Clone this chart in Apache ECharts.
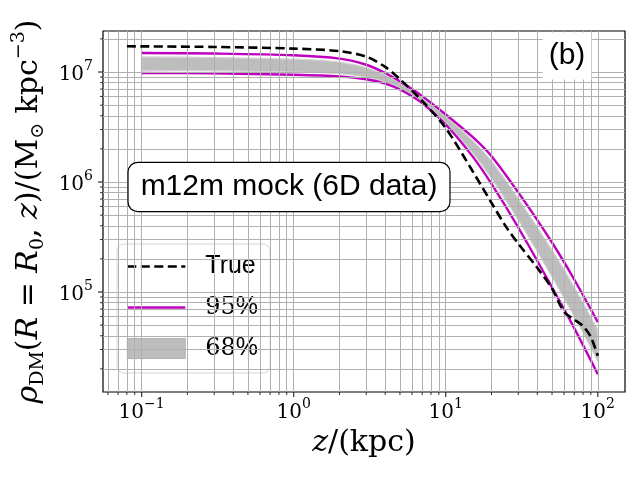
<!DOCTYPE html>
<html>
<head>
<meta charset="utf-8">
<script src="https://cdn.jsdelivr.net/npm/echarts@6/dist/echarts.min.js"></script>
<style>
  html, body { margin: 0; padding: 0; background: #fff; }
  #main { width: 640px; height: 480px; }
</style>
</head>
<body>
<div id="main"></div>
<script>
// z (kpc) for the posterior bands
var zBand = [0.1, 0.3, 1, 2, 3, 4, 5, 7, 10, 15, 20, 30, 50, 70, 100];
// 95% envelope
var upper95 = [1.489e7, 1.472e7, 1.419e7, 1.324e7, 1.164e7, 9.79e6, 8.22e6, 6.04e6, 4.11e6, 2.57e6, 1.718e6, 8.04e5, 2.82e5, 1.30e5, 5.33e4];
var lower95 = [9.79e6, 9.73e6, 9.44e6, 9.12e6, 8.59e6, 7.83e6, 6.93e6, 5.21e6, 3.33e6, 1.71e6, 9.62e5, 3.86e5, 1.104e5, 4.69e4, 1.79e4];
// 68% band
var hi68 = [1.371e7, 1.355e7, 1.309e7, 1.230e7, 1.096e7, 9.38e6, 7.94e6, 5.86e6, 3.94e6, 2.377e6, 1.549e6, 7.05e5, 2.40e5, 1.104e5, 4.51e4];
var lo68 = [1.035e7, 1.026e7, 1.0e7, 9.64e6, 8.99e6, 8.11e6, 7.11e6, 5.33e6, 3.45e6, 1.841e6, 1.079e6, 4.51e5, 1.371e5, 5.98e4, 2.36e4];
// true profile
var zTrue = [0.08, 0.3, 1, 2, 3, 4, 5, 7, 10, 15, 20, 25, 30, 40, 50, 60, 70, 80, 90, 100];
var rhoTrue = [1.714e7, 1.690e7, 1.633e7, 1.549e7, 1.380e7, 1.112e7, 8.59e6, 5.46e6, 3.09e6, 1.259e6, 6.46e5, 3.89e5, 2.75e5, 1.66e5, 1.072e5, 6.61e4, 5.62e4, 4.90e4, 3.89e4, 2.63e4];
// axes
var xRange = [0.0557, 151];
var yRange = [1.233e4, 2.36e7];
var xDecades = [-2, -1, 0, 1, 2];
var yDecades = [4, 5, 6, 7];
var xLabelExps = [-1, 0, 1, 2];
var yLabelExps = [5, 6, 7];

var SERIF = "'DejaVu Serif', 'Liberation Serif', serif";
var SANS = "'Liberation Sans', 'DejaVu Sans', sans-serif";
var SMOOTH = 0.3;

function pairs(xs, ys) {
  return xs.map(function (x, i) { return [x, ys[i]]; });
}
function inRange(v, r) { return v >= r[0] && v <= r[1]; }
function gridValues(decades, r, mults) {
  var out = [];
  decades.forEach(function (d) {
    mults.forEach(function (m) {
      var v = m * Math.pow(10, d);
      if (inRange(v, r)) out.push(v);
    });
  });
  return out;
}
var xMajor = xLabelExps.map(function (e) { return Math.pow(10, e); });
var yMajor = yLabelExps.map(function (e) { return Math.pow(10, e); });
var xMinor = gridValues(xDecades, xRange, [2, 3, 4, 5, 6, 7, 8, 9]);
var yMinor = gridValues(yDecades, yRange, [2, 3, 4, 5, 6, 7, 8, 9]);

function powLabel(v) {
  var e = Math.round(Math.log10(v));
  return '{b|10}{s|' + (e < 0 ? '\u2212' + (-e) : e) + '}';
}
var tickRich = {
  b: { fontFamily: SERIF, fontSize: 20, color: '#000', lineHeight: 26, verticalAlign: 'bottom' },
  s: { fontFamily: SERIF, fontSize: 14, color: '#000', lineHeight: 14, verticalAlign: 'top' }
};
var nameRich = {
  n: { fontFamily: SERIF, fontSize: 30, color: '#000', lineHeight: 38 },
  i: { fontFamily: SERIF, fontSize: 30, color: '#000', fontStyle: 'italic', lineHeight: 38 },
  sub: { fontFamily: SERIF, fontSize: 19, color: '#000', lineHeight: 19, verticalAlign: 'bottom' },
  sup: { fontFamily: SERIF, fontSize: 19, color: '#000', lineHeight: 19, verticalAlign: 'top' }
};

// same control-point rule as the line series smoothing, so the band edges follow the curves
function smoothTo(pts, smooth, first) {
  var d = (first ? 'M' : 'L') + pts[0][0] + ' ' + pts[0][1];
  var cp0 = pts[0].slice();
  for (var i = 1; i < pts.length; i++) {
    var p = pts[i], prev = pts[i - 1], next = pts[i + 1];
    var cp1, nextCp0;
    if (!next) {
      cp1 = p.slice();
    } else {
      var vx = next[0] - prev[0], vy = next[1] - prev[1];
      var l0 = Math.hypot(p[0] - prev[0], p[1] - prev[1]);
      var l1 = Math.hypot(next[0] - p[0], next[1] - p[1]);
      var r = l1 / (l0 + l1);
      cp1 = [p[0] - vx * smooth * (1 - r), p[1] - vy * smooth * (1 - r)];
      nextCp0 = [p[0] + vx * smooth * r, p[1] + vy * smooth * r];
    }
    d += 'C' + cp0[0] + ' ' + cp0[1] + ' ' + cp1[0] + ' ' + cp1[1] + ' ' + p[0] + ' ' + p[1];
    cp0 = nextCp0;
  }
  return d;
}

function renderBand(params, api) {
  if (params.dataIndex !== 0) return null;
  var n = params.dataInsideLength;
  var top = [], bot = [];
  for (var i = 0; i < n; i++) {
    top.push(api.coord([api.value(0, i), api.value(2, i)]));
    bot.push(api.coord([api.value(0, i), api.value(1, i)]));
  }
  var d = smoothTo(top, SMOOTH, true) + smoothTo(bot.reverse(), SMOOTH, false) + 'Z';
  return {
    type: 'path',
    shape: { pathData: d },
    style: { fill: '#bdbdbd', stroke: '#d3d3d3', lineWidth: 1.2 }
  };
}

var gridLine = { color: '#b0b0b0', width: 1, type: 'solid' };
function tickSeries(data, size, offset) {
  return {
    type: 'scatter', data: data, symbol: 'rect', symbolSize: size, symbolOffset: offset,
    itemStyle: { color: '#000' }, clip: false, silent: true, z: 6, animation: false
  };
}

var chart = echarts.init(document.getElementById('main'));
chart.setOption({
  animation: false,
  backgroundColor: '#fff',
  grid: { left: 103, right: 15, top: 31, bottom: 88, show: true, borderColor: '#000', borderWidth: 1.2, backgroundColor: 'transparent', outerBoundsMode: 'none' },
  xAxis: {
    type: 'log', logBase: 10, min: xRange[0], max: xRange[1],
    axisLine: { show: false }, axisTick: { show: false }, splitLine: { show: false },
    axisLabel: { show: true, interval: 0, showMinLabel: false, showMaxLabel: false, margin: 5, formatter: powLabel, rich: tickRich },
    name: '{i|z}{n|/(kpc)}', nameLocation: 'middle', nameGap: 32,
    nameTextStyle: { rich: nameRich }
  },
  yAxis: {
    type: 'log', logBase: 10, min: yRange[0], max: yRange[1],
    axisLine: { show: false }, axisTick: { show: false }, splitLine: { show: false },
    axisLabel: { show: true, interval: 0, showMinLabel: false, showMaxLabel: false, margin: 10, formatter: powLabel, rich: tickRich },
    name: '{i|\u03c1}{sub|DM}{n|(}{i|R}{n| = }{i|R}{sub|0}{n|, }{i|z}{n|)/(M}{sub|\u2299}{n| kpc}{sup|\u22123}{n|)}',
    nameLocation: 'middle', nameGap: 53, nameRotate: 90,
    nameTextStyle: { rich: nameRich }
  },
  legend: {
    orient: 'vertical', left: 117, top: 244,
    itemWidth: 58, itemHeight: 20, itemGap: 16,
    padding: [10, 12, 12, 9],
    backgroundColor: 'rgba(255,255,255,0.8)', borderColor: '#d6d6d6', borderWidth: 1, borderRadius: 7,
    selectedMode: false,
    data: [
      { name: 'True', itemStyle: { opacity: 0 }, lineStyle: { width: 2.6 } },
      { name: '95%', itemStyle: { opacity: 0 }, lineStyle: { width: 2.4 } },
      { name: '68%', icon: 'rect', itemStyle: { color: '#bdbdbd', borderColor: '#b3b3b3', borderWidth: 1 } }
    ],
    formatter: function (name) {
      if (name === 'True') return '{t|True}';
      return '{d|' + name.slice(0, 2) + '}{t|%}';
    },
    textStyle: {
      padding: [0, 0, 0, 15],
      rich: {
        t: { fontFamily: SANS, fontSize: 25, color: '#000', lineHeight: 26 },
        d: { fontFamily: SERIF, fontSize: 24, color: '#000', lineHeight: 26 }
      }
    }
  },
  graphic: [
    {
      type: 'text', x: 289, y: 187, z: 20,
      style: {
        text: 'm12m mock (6D data)', fontFamily: SANS, fontSize: 30, fill: '#000',
        align: 'center', verticalAlign: 'middle',
        backgroundColor: '#fff', borderColor: '#000', borderWidth: 1.2, borderRadius: 9,
        padding: [10, 12, 8, 12]
      }
    },
    {
      type: 'text', x: 567, y: 56, z: 20,
      style: {
        text: '(b)', fontFamily: SANS, fontSize: 30, fill: '#000',
        align: 'center', verticalAlign: 'middle',
        backgroundColor: '#fff', padding: [9, 6, 8, 6]
      }
    }
  ],
  series: [
    {
      name: 'grid', type: 'line', data: [], z: 1, silent: true,
      markLine: {
        silent: true, symbol: 'none', label: { show: false }, lineStyle: gridLine, animation: false,
        data: xMajor.concat(xMinor).map(function (v) { return { xAxis: v }; })
          .concat(yMajor.concat(yMinor).map(function (v) { return { yAxis: v }; }))
      }
    },
    {
      name: '68%', type: 'custom', z: 2, silent: true,
      data: zBand.map(function (z, i) { return [z, lo68[i], hi68[i]]; }),
      encode: { x: 0, y: [1, 2] },
      renderItem: renderBand,
      itemStyle: { color: '#bdbdbd' }
    },
    {
      name: '95%', type: 'line', data: pairs(zBand, upper95), smooth: SMOOTH, symbol: 'none', z: 4,
      lineStyle: { color: '#bf00bf', width: 2.4 }, itemStyle: { color: '#bf00bf' }
    },
    {
      name: '95%', type: 'line', data: pairs(zBand, lower95), smooth: SMOOTH, symbol: 'none', z: 4,
      lineStyle: { color: '#bf00bf', width: 2.4 }, itemStyle: { color: '#bf00bf' }
    },
    {
      name: 'True', type: 'line', data: pairs(zTrue, rhoTrue), smooth: SMOOTH, symbol: 'none', z: 5,
      lineStyle: { color: '#000', width: 2.6, type: [9, 4.5] }, itemStyle: { color: '#000' }
    },
    tickSeries(xMajor.map(function (v) { return [v, yRange[0]]; }), [1.2, 5], [0, 2.5]),
    tickSeries(xMinor.map(function (v) { return [v, yRange[0]]; }), [1, 3], [0, 1.5]),
    tickSeries(yMajor.map(function (v) { return [xRange[0], v]; }), [5, 1.2], [-2.5, 0]),
    tickSeries(yMinor.map(function (v) { return [xRange[0], v]; }), [3, 1], [-1.5, 0])
  ]
});
</script>
</body>
</html>
